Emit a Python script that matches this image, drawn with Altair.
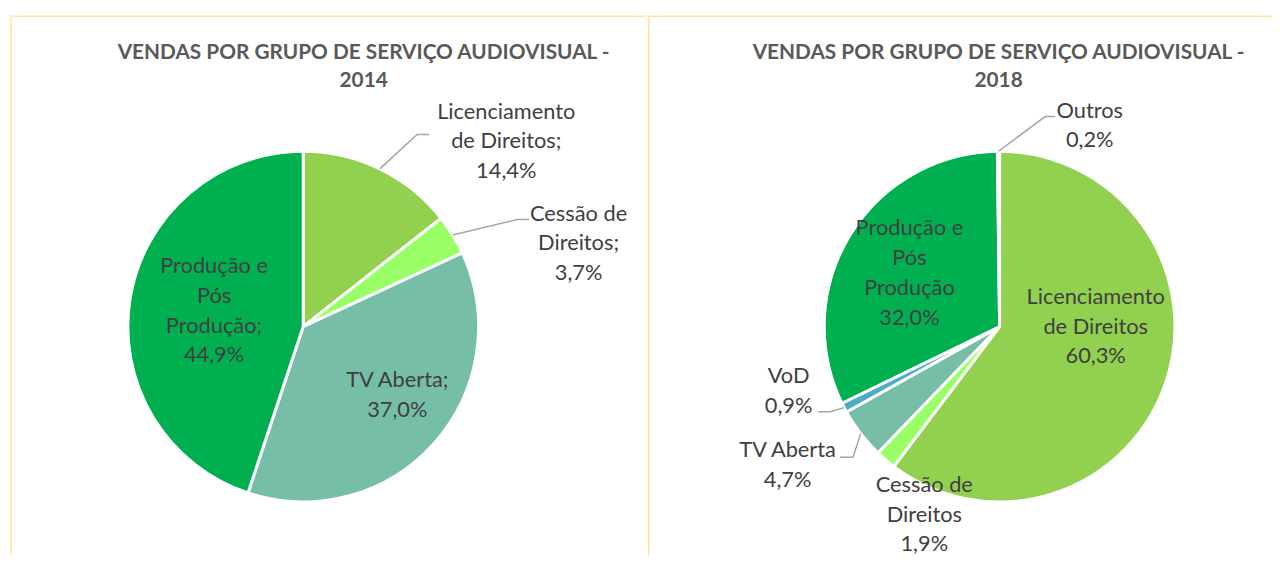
import math
import altair as alt
import pandas as pd

# ---------------- data ----------------
categories_2014 = ["Licenciamento de Direitos", "Cessão de Direitos", "TV Aberta",
                   "Produção e Pós Produção"]
values_2014 = [14.4, 3.7, 37.0, 44.9]
label_names_2014 = [["Licenciamento", "de Direitos;"], ["Cessão de", "Direitos;"],
                    ["TV Aberta;"], ["Produção e", "Pós", "Produção;"]]

categories_2018 = ["Licenciamento de Direitos", "Cessão de Direitos", "TV Aberta",
                   "VoD", "Produção e Pós Produção", "Outros"]
values_2018 = [60.3, 1.9, 4.7, 0.9, 32.0, 0.2]
label_names_2018 = [["Licenciamento", "de Direitos"], ["Cessão de", "Direitos"],
                    ["TV Aberta"], ["VoD"], ["Produção e", "Pós", "Produção"], ["Outros"]]

title_lines = [["VENDAS POR GRUPO DE SERVIÇO AUDIOVISUAL -", "2014"],
               ["VENDAS POR GRUPO DE SERVIÇO AUDIOVISUAL -", "2018"]]

# ---------------- styles / layout ----------------
color_domain = ["Licenciamento de Direitos", "Cessão de Direitos", "TV Aberta",
                "VoD", "Produção e Pós Produção", "Outros"]
color_range = ["#92D050", "#99FF66", "#77BEA8", "#4BACC6", "#00B050", "#C9E7A7"]
BORDER = "#FFE699"
FONT = "Lato"
R = 177
PANEL_H = 545
LABEL_LH = 30
TITLE_LH = 28
panel_w = [642, 630]
centers = [(296, 314), (355, 314)]

# label block centres relative to pie centre (pixels)
label_offsets_2014 = [(205, -187), (278, -84), (95, 69), (-90, -16)]
label_offsets_2018 = [(97, 0), (-76, 190), (-214, 140), (-213, 65), (-91, -54), (91, -203)]
# leader lines: category index -> (elbow, end) relative to pie centre
leaders_2014 = {0: [(115, -194), (127, -194)], 1: [(216, -108), (228, -108)]}
leaders_2018 = {5: [(46, -212), (56, -212)], 3: [(-171, 86), (-183, 86)],
                2: [(-148, 132), (-161, 132)]}
title_pos = [(357, 52), (354, 52)]


def pct(v):
    return f"{v:.1f}".replace(".", ",") + "%"


def panel(cats, vals, names, offsets, leaders, tlines, w, center, tpos):
    cx, cy = center
    df = pd.DataFrame({"cat": cats, "val": vals, "idx": list(range(len(cats)))})

    arcs = alt.Chart(df).mark_arc(outerRadius=R, stroke="white", strokeWidth=3).encode(
        theta=alt.Theta("val:Q", stack=True),
        color=alt.Color("cat:N", scale=alt.Scale(domain=color_domain, range=color_range),
                        legend=None),
        order=alt.Order("idx:Q"),
        x=alt.value(cx), y=alt.value(cy),
    )

    total = sum(vals)
    cum = 0.0
    lab_rows, line_rows = [], []
    for i, (c, v) in enumerate(zip(cats, vals)):
        mid = (cum + v / 2) / total * 2 * math.pi
        cum += v
        ox, oy = offsets[i]
        lines_txt = names[i] + [pct(v)]
        # first line position so that the block is centred on the offset
        y_first = cy + oy - (len(lines_txt) - 1) * LABEL_LH / 2
        lab_rows.append({"x": cx + ox, "y": y_first, "txt": "\n".join(lines_txt)})
        if i in leaders:
            pts = [(R * math.sin(mid), -R * math.cos(mid))] + leaders[i]
            for k, (px, py) in enumerate(pts):
                line_rows.append({"id": i, "o": k, "x": cx + px, "y": cy + py})

    labels = alt.Chart(pd.DataFrame(lab_rows)).mark_text(
        font=FONT, fontSize=22, color="#404040", lineBreak="\n", lineHeight=LABEL_LH,
        align="center", baseline="middle").encode(
        x=alt.X("x:Q", scale=None, axis=None),
        y=alt.Y("y:Q", scale=None, axis=None),
        text="txt:N")

    layers = [arcs]
    if line_rows:
        lines = alt.Chart(pd.DataFrame(line_rows)).mark_line(
            color="#A6A6A6", strokeWidth=1.5).encode(
            x=alt.X("x:Q", scale=None, axis=None),
            y=alt.Y("y:Q", scale=None, axis=None),
            detail="id:N", order="o:Q")
        layers.append(lines)
    layers.append(labels)

    tdf = pd.DataFrame({"t": ["\n".join(tlines)]})
    ttl = alt.Chart(tdf).mark_text(
        font=FONT, fontSize=21, fontWeight="bold", color="#595959", lineBreak="\n",
        lineHeight=TITLE_LH, align="center", baseline="middle").encode(
        text="t:N", x=alt.value(tpos[0]),
        y=alt.value(tpos[1] - (len(tlines) - 1) * TITLE_LH / 2))
    layers.append(ttl)

    bdf = pd.DataFrame({"a": [0]})
    top = alt.Chart(bdf).mark_rule(color=BORDER, strokeWidth=1.5).encode(
        x=alt.value(0), x2=alt.value(w), y=alt.value(0.75))
    left = alt.Chart(bdf).mark_rule(color=BORDER, strokeWidth=1.5).encode(
        x=alt.value(0.75), y=alt.value(0), y2=alt.value(PANEL_H))
    layers += [top, left]

    return alt.layer(*layers).properties(width=w, height=PANEL_H)


p1 = panel(categories_2014, values_2014, label_names_2014, label_offsets_2014,
           leaders_2014, title_lines[0], panel_w[0], centers[0], title_pos[0])
p2 = panel(categories_2018, values_2018, label_names_2018, label_offsets_2018,
           leaders_2018, title_lines[1], panel_w[1], centers[1], title_pos[1])

chart = alt.hconcat(p1, p2, spacing=0).properties(
    padding={"left": 1, "top": 4, "right": 0, "bottom": 0},
    background="white",
).configure_view(stroke=None)

chart.save("out.html", embed_options={"renderer": "svg", "actions": False})
